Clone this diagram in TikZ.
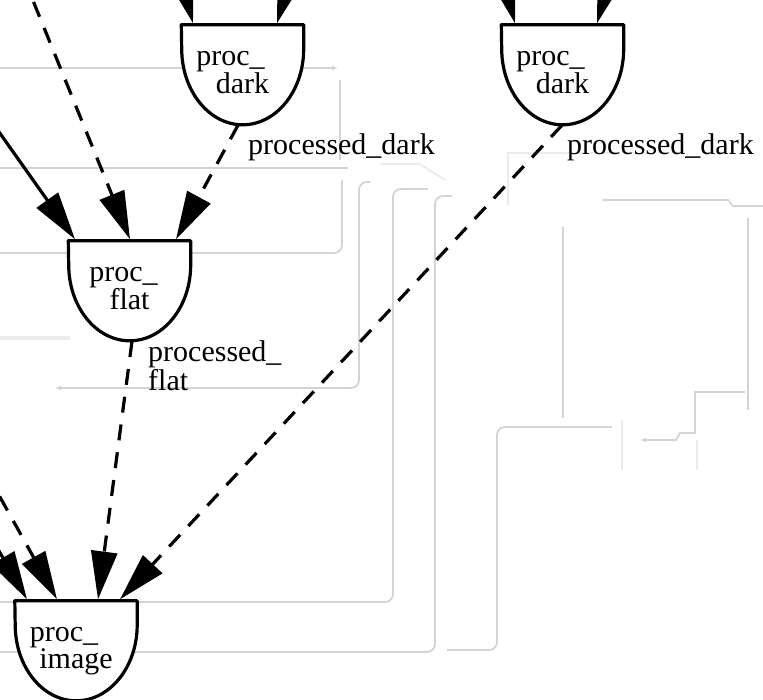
\documentclass[tikz,border=0pt]{standalone}
\usepackage{fontspec}
\setmainfont{Liberation Serif}
\usetikzlibrary{arrows.meta}

% outline of a processing step: flat top, short straight sides, round bottom
\newcommand\bucketoutline[1]{%
  \draw[bucketline] (#1.north west) -- (#1.north east)
    -- ([yshift=-24pt]#1.north east)
    arc[start angle=0, end angle=-180, x radius=61pt, y radius=76pt]
    -- cycle;}

\tikzset{
  bucket/.style={minimum width=122pt, minimum height=100pt, inner sep=0pt,
    align=center, font=\fontsize{30}{25}\selectfont},
  bucketline/.style={line width=3.2pt, line join=round, fill=white},
  flow/.style={line width=3.2pt, -{Triangle[length=48pt,width=26pt]}},
  dashflow/.style={flow, dash pattern=on 16pt off 12pt},
  lbl/.style={inner sep=0pt, font=\fontsize{30}{29}\selectfont, align=left},
  ghost/.style={draw=black!17, line width=1.8pt, rounded corners=8pt},
  ghosttip/.style={ghost, -{Latex[length=6pt,width=5pt]}},
  faint/.style={draw=black!8, line width=1.6pt},
}

\begin{document}
\begin{tikzpicture}[x=1pt, y=-1pt]
\useasboundingbox (0,0) rectangle (763,699);
\clip (0,0) rectangle (763,699);
\fill[white] (0,0) rectangle (763,699);

% wiring in the background
\draw[ghosttip] (0,68) -- (338,68);
\draw[ghost] (340,80) -- (340,160);
\draw[ghost] (0,168) -- (348,168);
\draw[ghost] (342,180) -- (342,253) -- (0,253);
\draw[ghosttip] (370,182) -- (359,182) -- (359,388) -- (55,388);
\draw[ghost] (428,189) -- (393,189) -- (393,602) -- (0,602);
\draw[ghost] (452,196) -- (435,196) -- (435,652) -- (0,652);
\draw[ghost] (612,427) -- (497,427) -- (497,650) -- (447,650);
\draw[ghost] (563,227) -- (563,418);
\draw[ghost, rounded corners=0pt] (602,200) -- (728,200) -- (733,206) -- (763,206);
\draw[ghost] (748,218) -- (748,410);
\draw[ghosttip, rounded corners=0pt] (745,392) -- (695,392) -- (695,433) -- (680,433) -- (676,440) -- (640,440);
\draw[faint] (508,205) -- (508,153) -- (620,153);
\draw[faint] (380,164) -- (420,164) -- (445,180);
\draw[faint, line width=4pt] (0,338) -- (70,338);
\draw[faint] (622,420) -- (622,470);
\draw[faint] (697,440) -- (697,470);

% processing steps
\node[bucket] (dark1) at (242.5,75) {};
\node[bucket] (dark2) at (562.5,75) {};
\node[bucket] (flat)  at (129.5,291) {};
\node[bucket] (image) at (76,651) {};
\bucketoutline{dark1}
\bucketoutline{dark2}
\bucketoutline{flat}
\bucketoutline{image}
\node[bucket] (tdark1) at (dark1) {proc\_\hspace*{24pt}\\dark\rule[-5pt]{0pt}{5pt}};
\node[bucket] (tdark2) at (dark2) {proc\_\hspace*{24pt}\\dark\rule[-5pt]{0pt}{5pt}};
\node[bucket] (tflat) at (flat) {proc\_\hspace*{12pt}\\flat\rule[-5pt]{0pt}{5pt}};
\node[bucket] (timage) at (image) {proc\_\hspace*{24pt}\\image\rule[-5pt]{0pt}{5pt}};

% loose ends of connectors coming from outside
\coordinate (srcA) at (-30,91);
\coordinate (srcB) at (23,-24);
\coordinate (srcF) at (-14,472);
\coordinate (srcG) at (-33,496);
\coordinate (srcD1) at (167,-73);
\coordinate (srcD2) at (306,-76);
\coordinate (srcD3) at (489,-73);
\coordinate (srcD4) at (626,-76);

% connectors
\draw[flow] (srcD1) -- ([xshift=-49.5pt, yshift=1.5pt]dark1.north);
\draw[flow] (srcD2) -- ([xshift=34.5pt, yshift=1.5pt]dark1.north);
\draw[flow] (srcD3) -- ([xshift=-47.5pt, yshift=1.5pt]dark2.north);
\draw[flow] (srcD4) -- ([xshift=34.5pt, yshift=1.5pt]dark2.north);

\draw[flow] (srcA) -- ([xshift=-54.5pt, yshift=1.5pt]flat.north);
\draw[dashflow] (srcB) -- ([xshift=0.5pt, yshift=1.5pt]flat.north);
\draw[dashflow] ([xshift=-4.5pt]dark1.south) -- ([xshift=46.5pt, yshift=1.5pt]flat.north);

\draw[flow] (srcG) -- ([xshift=-49pt, yshift=1.5pt]image.north);
\draw[dashflow] (srcF) -- ([xshift=-19pt, yshift=1.5pt]image.north);
\draw[dashflow] ([xshift=2.5pt]flat.south) -- ([xshift=22pt, yshift=1.5pt]image.north);
\draw[dashflow] ([xshift=-0.5pt]dark2.south) -- ([xshift=44pt, yshift=1.5pt]image.north);

% connector labels
\node[lbl, anchor=base west] (ldark1) at (248,154) {processed\_dark};
\node[lbl, anchor=base west] (ldark2) at (567,154) {processed\_dark};
\node[lbl, anchor=north west] (lflat) at (148,340) {processed\_\\flat};
\end{tikzpicture}
\end{document}
